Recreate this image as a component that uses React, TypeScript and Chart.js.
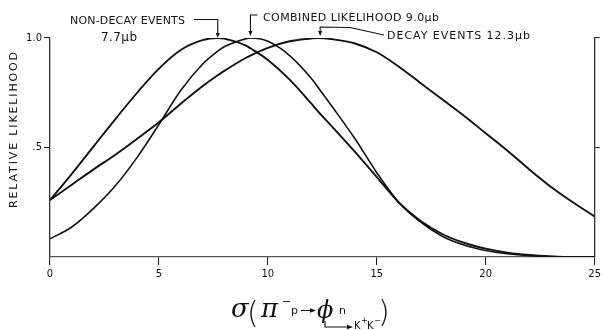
import React, { useEffect, useRef } from "react";
import { Chart, registerables } from "chart.js";

Chart.register(...registerables);

// ---- data ----
const sigma = [0, 1, 2, 3, 4, 5, 6, 7, 7.7, 8, 9, 9.2, 10, 11, 12, 12.3, 13, 14, 15, 16, 17, 18, 19, 20, 21, 22, 23, 24, 25];
const nonDecay = [0.26, 0.38, 0.505, 0.63, 0.75, 0.86, 0.945, 0.99, 1.0, 0.997, 0.965, 0.953, 0.9, 0.81, 0.7, 0.665, 0.59, 0.48, 0.365, 0.25, 0.165, 0.105, 0.065, 0.038, 0.02, 0.009, 0.003, 0, 0];
const decay = [0.26, 0.33, 0.4, 0.467, 0.54, 0.615, 0.7, 0.78, 0.83, 0.85, 0.91, 0.92, 0.955, 0.985, 0.998, 1.0, 0.994, 0.975, 0.935, 0.87, 0.795, 0.72, 0.645, 0.565, 0.485, 0.4, 0.32, 0.25, 0.185];
const combined = [0.083, 0.137, 0.222, 0.325, 0.455, 0.605, 0.76, 0.88, 0.94, 0.96, 0.997, 1.0, 0.985, 0.92, 0.815, 0.775, 0.68, 0.54, 0.385, 0.25, 0.16, 0.095, 0.055, 0.03, 0.015, 0.006, 0.002, 0, 0];

const xTickValues = [0, 5, 10, 15, 20, 25];
const xTickLabels = ["0", "5", "10", "15", "20", "25"];
const yTickValues = [0.5, 1.0];
const yTickLabels = [".5", "1.0"];

const seriesNames = ["NON-DECAY EVENTS", "COMBINED LIKELIHOOD", "DECAY EVENTS"];
const seriesResults = ["7.7\u03bcb", "9.0\u03bcb", "12.3\u03bcb"];
const peakSigma = [7.7, 9.2, 12.4]; // where the arrows point
const yTitle = "RELATIVE LIKELIHOOD";

const INK = "#111";

function spacedText(
  ctx: CanvasRenderingContext2D,
  text: string,
  x: number,
  y: number,
  width: number,
  font: string
) {
  ctx.save();
  ctx.font = font;
  (ctx as any).letterSpacing = "0px";
  const w = ctx.measureText(text).width;
  const n = Array.from(text).length;
  const ls = n > 1 ? (width - w) / (n - 1) : 0;
  (ctx as any).letterSpacing = ls.toFixed(2) + "px";
  ctx.fillStyle = INK;
  ctx.textBaseline = "alphabetic";
  ctx.textAlign = "left";
  ctx.fillText(text, x, y);
  ctx.restore();
}

function arrowDown(ctx: CanvasRenderingContext2D, x: number, y: number) {
  ctx.beginPath();
  ctx.moveTo(x - 2, y - 5);
  ctx.lineTo(x + 2, y - 5);
  ctx.lineTo(x, y);
  ctx.closePath();
  ctx.fill();
}

function arrowRight(ctx: CanvasRenderingContext2D, x: number, y: number) {
  ctx.beginPath();
  ctx.moveTo(x - 6, y - 2.2);
  ctx.lineTo(x - 6, y + 2.2);
  ctx.lineTo(x, y);
  ctx.closePath();
  ctx.fill();
}

const annotations = {
  id: "annotations",
  afterDraw(chart: any) {
    const ctx: CanvasRenderingContext2D = chart.ctx;
    const xs = chart.scales.x;
    const ys = chart.scales.y;
    const yPeak = ys.getPixelForValue(1);
    ctx.save();
    ctx.strokeStyle = INK;
    ctx.fillStyle = INK;
    ctx.lineWidth = 1.1;

    // labels
    const f = "11px 'DejaVu Sans'";
    spacedText(ctx, seriesNames[0], 70, 24, 115, f);
    spacedText(ctx, seriesResults[0], 101, 41, 36, "12px 'DejaVu Sans'");
    spacedText(ctx, seriesNames[1] + " " + seriesResults[1], 263, 21, 176, f);
    spacedText(ctx, seriesNames[2] + " " + seriesResults[2], 387, 38.5, 143, f);

    // leaders
    const x0 = xs.getPixelForValue(peakSigma[0]);
    ctx.beginPath();
    ctx.moveTo(194, 19.5);
    ctx.lineTo(x0, 19.5);
    ctx.lineTo(x0, yPeak - 3);
    ctx.stroke();
    arrowDown(ctx, x0, yPeak);

    const x1 = xs.getPixelForValue(peakSigma[1]);
    ctx.beginPath();
    ctx.moveTo(x1 + 7, 15);
    ctx.lineTo(x1, 15);
    ctx.lineTo(x1, yPeak - 5);
    ctx.stroke();
    arrowDown(ctx, x1, yPeak - 2);

    const x2 = xs.getPixelForValue(peakSigma[2]);
    ctx.beginPath();
    ctx.moveTo(x2, yPeak - 5);
    ctx.lineTo(x2, 27);
    ctx.lineTo(350, 27.5);
    ctx.lineTo(384, 35);
    ctx.stroke();
    arrowDown(ctx, x2, yPeak - 2);

    // y title
    ctx.save();
    ctx.translate(17, 130);
    ctx.rotate(-Math.PI / 2);
    spacedText(ctx, yTitle, -78, 0, 156, f);
    ctx.restore();

    // x title: sigma(pi- p -> phi n, phi -> K+K-)
    ctx.fillStyle = INK;
    ctx.textBaseline = "alphabetic";
    ctx.font = "italic 26px 'DejaVu Serif'";
    ctx.fillText("\u03c3", 231, 317);
    ctx.font = "200 30px 'DejaVu Sans'";
    ctx.fillText("(", 247, 323);
    ctx.font = "italic 26px 'DejaVu Serif'";
    ctx.fillText("\u03c0", 261, 317);
    ctx.font = "11px 'DejaVu Sans'";
    ctx.fillText("\u2212", 282, 305);
    ctx.fillText("p", 291, 314);
    ctx.beginPath();
    ctx.moveTo(301, 310.5);
    ctx.lineTo(312, 310.5);
    ctx.stroke();
    arrowRight(ctx, 316, 310.5);
    ctx.font = "italic 24px 'DejaVu Serif'";
    ctx.fillText("\u03d5", 317, 318);
    ctx.font = "11px 'DejaVu Sans'";
    ctx.fillText("n", 339, 314);
    ctx.beginPath();
    ctx.moveTo(325, 321);
    ctx.lineTo(325, 327);
    ctx.lineTo(348, 327);
    ctx.stroke();
    arrowRight(ctx, 353, 327);
    ctx.font = "10px 'DejaVu Sans'";
    ctx.fillText("K", 354, 329);
    ctx.font = "8px 'DejaVu Sans'";
    ctx.fillText("+", 361, 323);
    ctx.font = "10px 'DejaVu Sans'";
    ctx.fillText("K", 367, 329);
    ctx.font = "8px 'DejaVu Sans'";
    ctx.fillText("\u2212", 374, 323);
    ctx.font = "200 30px 'DejaVu Sans'";
    ctx.fillText(")", 378, 322);

    ctx.restore();
  },
};

export default function App() {
  const ref = useRef<HTMLCanvasElement | null>(null);

  useEffect(() => {
    document.body.style.margin = "0";
    const canvas = ref.current;
    if (!canvas) return;
    const mk = (vals: number[]) => sigma.map((s, i) => ({ x: s, y: vals[i] }));
    const chart = new Chart(canvas, {
      type: "line",
      data: {
        datasets: [
          { label: seriesNames[0], data: mk(nonDecay), borderColor: INK, borderWidth: 1.9 },
          { label: seriesNames[1], data: mk(combined), borderColor: INK, borderWidth: 1.6 },
          { label: seriesNames[2], data: mk(decay), borderColor: INK, borderWidth: 1.9 },
        ],
      },
      options: {
        animation: false,
        responsive: false,
        maintainAspectRatio: false,
        layout: { padding: { top: 38, left: 0, right: 0, bottom: 0 } },
        plugins: { legend: { display: false }, tooltip: { enabled: false } },
        elements: { point: { radius: 0 }, line: { cubicInterpolationMode: "monotone", fill: false } },
        scales: {
          x: {
            type: "linear",
            min: 0,
            max: 25,
            position: "bottom",
            afterBuildTicks: (s: any) => {
              s.ticks = xTickValues.map((v) => ({ value: v }));
            },
            afterFit: (s: any) => {
              s.height = 73;
            },
            grid: { drawOnChartArea: false, drawTicks: true, tickLength: 8, color: "#222", lineWidth: 1.1 },
            border: { display: true, color: "#555", width: 1.2 },
            ticks: {
              autoSkip: false,
              maxRotation: 0,
              padding: 1,
              color: INK,
              font: { family: "'DejaVu Sans'", size: 10, lineHeight: 1.6 },
              callback: (_v: any, i: number) => xTickLabels[i],
            },
          },
          y: {
            type: "linear",
            min: 0,
            max: 1,
            position: "left",
            afterBuildTicks: (s: any) => {
              s.ticks = yTickValues.map((v) => ({ value: v }));
            },
            afterFit: (s: any) => {
              s.width = 50;
            },
            grid: { drawOnChartArea: false, drawTicks: true, tickLength: 6, color: "#222", lineWidth: 1.1 },
            border: { display: true, color: "#333", width: 1.3 },
            ticks: {
              padding: 2,
              color: INK,
              font: { family: "'DejaVu Sans'", size: 10 },
              callback: (_v: any, i: number) => yTickLabels[i],
            },
          },
          y2: {
            type: "linear",
            min: 0,
            max: 1,
            position: "right",
            afterBuildTicks: (s: any) => {
              s.ticks = yTickValues.map((v) => ({ value: v }));
            },
            afterFit: (s: any) => {
              s.width = 6.5;
            },
            grid: { drawOnChartArea: false, drawTicks: true, tickLength: 5, color: "#222", lineWidth: 1.1 },
            border: { display: true, color: "#333", width: 1.3 },
            ticks: { display: false },
          },
        },
      },
      plugins: [annotations],
    });
    return () => chart.destroy();
  }, []);

  return (
    <div style={{ width: 602, height: 330, background: "#fff" }}>
      <canvas ref={ref} width={602} height={330} style={{ display: "block" }} />
    </div>
  );
}
